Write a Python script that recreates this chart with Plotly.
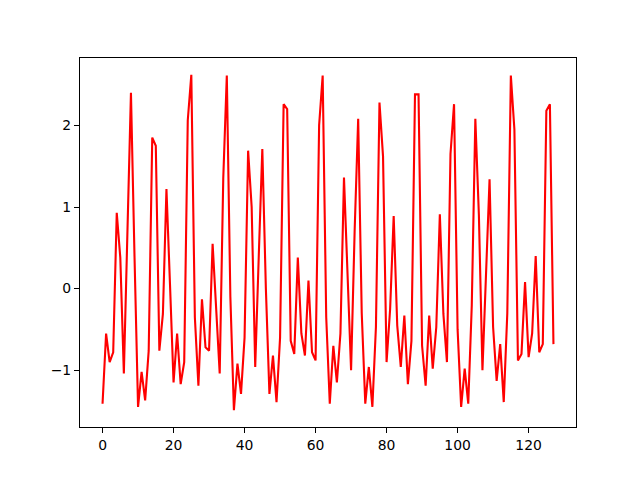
import plotly.graph_objects as go

werte = [
    -1.41, -0.55, -0.90, -0.78, 0.93, 0.38, -1.04, 0.60, 2.40, 0.40,
    -1.45, -1.02, -1.37, -0.76, 1.85, 1.75, -0.76, -0.31, 1.22, 0.05,
    -1.15, -0.55, -1.17, -0.90, 2.06, 2.62, -0.35, -1.19, -0.13, -0.72,
    -0.76, 0.55, -0.25, -1.04, 1.35, 2.61, -0.10, -1.49, -0.92, -1.29,
    -0.60, 1.69, 1.00, -0.96, 0.40, 1.71, 0.00, -1.29, -0.82, -1.39,
    -0.60, 2.26, 2.20, -0.64, -0.80, 0.38, -0.55, -0.82, 0.10, -0.78,
    -0.88, 2.00, 2.61, -0.35, -1.41, -0.70, -1.15, -0.55, 1.36, 0.20,
    -1.00, 0.70, 2.08, -0.30, -1.41, -0.96, -1.45, -0.47, 2.28, 1.62,
    -0.90, -0.25, 0.89, -0.45, -0.96, -0.33, -1.17, -0.64, 2.38, 2.38,
    -0.70, -1.19, -0.33, -0.98, -0.47, 0.91, -0.31, -0.90, 1.65, 2.26,
    -0.50, -1.45, -0.98, -1.41, -0.20, 2.08, 0.90, -1.00, 0.18, 1.34,
    -0.47, -1.13, -0.68, -1.39, -0.30, 2.61, 1.95, -0.88, -0.80, 0.08,
    -0.84, -0.55, 0.40, -0.78, -0.68, 2.18, 2.26, -0.68,
]
index = list(range(len(werte)))

x_ticks = [0, 20, 40, 60, 80, 100, 120]
y_ticks = [-1, 0, 1, 2]

# Achsengrenzen wie matplotlib (5% Rand)
def grenzen(daten):
    lo, hi = min(daten), max(daten)
    rand = 0.05 * (hi - lo)
    return [lo - rand, hi + rand]

fig = go.Figure()
fig.add_trace(go.Scatter(x=index, y=werte, mode="lines",
                         line=dict(color="red", width=2.1)))

achse = dict(showline=True, linecolor="black", linewidth=1.1, mirror=True,
             ticks="outside", ticklen=5, tickwidth=1.1, tickcolor="black",
             showgrid=False, zeroline=False)

# die Seite hat 8px Rand, deshalb links/oben 8px weniger
fig.update_layout(
    width=640, height=480,
    margin=dict(l=72, r=72, t=50, b=61),
    paper_bgcolor="white", plot_bgcolor="white",
    showlegend=False,
    font=dict(family="DejaVu Sans", size=13.9, color="black"),
    xaxis=dict(range=grenzen(index), tickvals=x_ticks, **achse),
    yaxis=dict(range=grenzen(werte), tickvals=y_ticks, **achse),
)

fig.write_html("out.html")
